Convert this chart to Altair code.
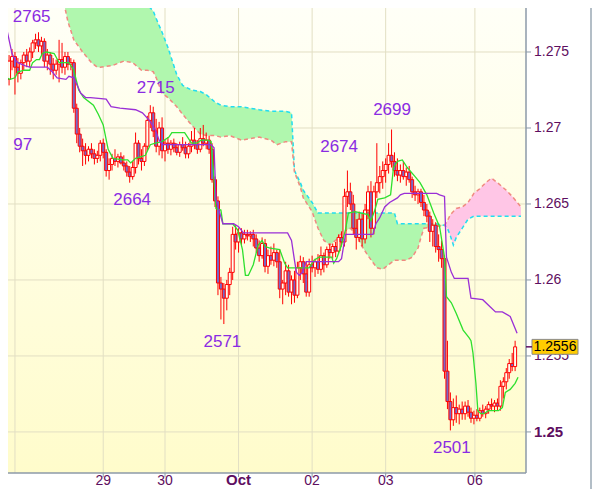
import altair as alt
import pandas as pd

# ---------------- candle data (bar index 0..173) ----------------
opens = [
 1.2745,1.2732,1.2744,1.2747,1.2740,1.2736,1.2743,1.2748,1.2744,1.2750,
 1.2756,1.2758,1.2754,1.2757,1.2744,1.2748,1.2742,1.2738,1.2742,1.2745,
 1.2740,1.2747,1.2742,1.2743,1.2713,1.2696,1.2688,1.2685,1.2682,1.2686,
 1.2683,1.2680,1.2682,1.2690,1.2684,1.2672,1.2676,1.2680,1.2678,1.2681,
 1.2677,1.2675,1.2671,1.2668,1.2674,1.2690,1.2680,1.2678,1.2688,1.2705,
 1.2710,1.2698,1.2688,1.2700,1.2685,1.2690,1.2686,1.2690,1.2687,1.2684,
 1.2689,1.2687,1.2683,1.2688,1.2692,1.2689,1.2686,1.2693,1.2690,1.2692,
 1.2686,1.2666,1.2652,1.2598,1.2594,1.2588,1.2597,1.2605,1.2630,1.2625,
 1.2631,1.2627,1.2630,1.2629,1.2630,1.2627,1.2621,1.2616,1.2624,1.2609,
 1.2616,1.2613,1.2618,1.2612,1.2594,1.2598,1.2606,1.2592,1.2600,1.2590,
 1.2608,1.2612,1.2604,1.2592,1.2610,1.2608,1.2612,1.2607,1.2616,1.2610,
 1.2620,1.2618,1.2622,1.2619,1.2628,1.2625,1.2655,1.2658,1.2650,1.2634,
 1.2628,1.2640,1.2627,1.2646,1.2658,1.2634,1.2658,1.2664,1.2668,1.2672,
 1.2676,1.2682,1.2678,1.2672,1.2669,1.2672,1.2668,1.2671,1.2666,1.2658,
 1.2656,1.2658,1.2651,1.2646,1.2642,1.2632,1.2636,1.2622,1.2620,1.2614,
 1.2540,1.2520,1.2508,1.2516,1.2512,1.2515,1.2512,1.2517,1.2513,1.2509,
 1.2511,1.2509,1.2514,1.2512,1.2515,1.2518,1.2517,1.2519,1.2517,1.2530,
 1.2533,1.2539,1.2545,1.2543]
highs = [
 1.2765,1.2748,1.2752,1.2750,1.2746,1.2745,1.2750,1.2752,1.2753,1.2758,
 1.2762,1.2763,1.2760,1.2759,1.2752,1.2750,1.2746,1.2745,1.2758,1.2756,
 1.2750,1.2750,1.2746,1.2745,1.2716,1.2700,1.2693,1.2690,1.2688,1.2690,
 1.2686,1.2685,1.2692,1.2693,1.2686,1.2680,1.2683,1.2686,1.2683,1.2684,
 1.2682,1.2678,1.2675,1.2678,1.2697,1.2692,1.2686,1.2690,1.2708,1.2715,
 1.2714,1.2706,1.2704,1.2707,1.2692,1.2694,1.2692,1.2693,1.2690,1.2691,
 1.2694,1.2691,1.2690,1.2698,1.2700,1.2692,1.2700,1.2702,1.2697,1.2695,
 1.2690,1.2668,1.2655,1.2602,1.2598,1.2600,1.2608,1.2635,1.2636,1.2634,
 1.2634,1.2633,1.2633,1.2632,1.2633,1.2630,1.2626,1.2628,1.2627,1.2620,
 1.2622,1.2624,1.2620,1.2620,1.2600,1.2612,1.2610,1.2603,1.2606,1.2612,
 1.2616,1.2615,1.2612,1.2614,1.2616,1.2614,1.2617,1.2622,1.2618,1.2622,
 1.2624,1.2624,1.2625,1.2630,1.2632,1.2660,1.2672,1.2664,1.2656,1.2640,
 1.2645,1.2644,1.2650,1.2662,1.2665,1.2662,1.2690,1.2675,1.2678,1.2680,
 1.2690,1.2699,1.2684,1.2680,1.2676,1.2678,1.2674,1.2675,1.2668,1.2662,
 1.2660,1.2660,1.2656,1.2650,1.2645,1.2640,1.2638,1.2630,1.2626,1.2616,
 1.2560,1.2526,1.2522,1.2524,1.2518,1.2520,1.2520,1.2521,1.2516,1.2514,
 1.2515,1.2516,1.2518,1.2517,1.2520,1.2522,1.2521,1.2522,1.2534,1.2536,
 1.2542,1.2548,1.2552,1.2560]
lows = [
 1.2725,1.2728,1.2738,1.2722,1.2730,1.2732,1.2738,1.2740,1.2740,1.2746,
 1.2752,1.2750,1.2748,1.2740,1.2738,1.2735,1.2732,1.2735,1.2730,1.2736,
 1.2735,1.2738,1.2738,1.2710,1.2690,1.2684,1.2675,1.2676,1.2678,1.2680,
 1.2676,1.2677,1.2678,1.2680,1.2668,1.2666,1.2672,1.2675,1.2674,1.2676,
 1.2672,1.2668,1.2664,1.2666,1.2670,1.2676,1.2672,1.2675,1.2685,1.2700,
 1.2694,1.2684,1.2682,1.2680,1.2678,1.2683,1.2682,1.2684,1.2682,1.2681,
 1.2685,1.2680,1.2680,1.2684,1.2686,1.2683,1.2684,1.2688,1.2686,1.2683,
 1.2664,1.2648,1.2590,1.2574,1.2571,1.2580,1.2590,1.2600,1.2620,1.2618,
 1.2622,1.2624,1.2626,1.2625,1.2622,1.2618,1.2612,1.2614,1.2605,1.2604,
 1.2610,1.2609,1.2608,1.2588,1.2584,1.2590,1.2589,1.2584,1.2585,1.2588,
 1.2600,1.2598,1.2589,1.2589,1.2605,1.2602,1.2604,1.2603,1.2605,1.2608,
 1.2614,1.2614,1.2615,1.2617,1.2622,1.2622,1.2648,1.2646,1.2630,1.2620,
 1.2625,1.2622,1.2624,1.2640,1.2628,1.2630,1.2654,1.2657,1.2660,1.2664,
 1.2670,1.2674,1.2668,1.2665,1.2664,1.2666,1.2662,1.2664,1.2654,1.2652,
 1.2650,1.2648,1.2642,1.2638,1.2625,1.2622,1.2618,1.2612,1.2608,1.2535,
 1.2515,1.2501,1.2504,1.2506,1.2505,1.2508,1.2508,1.2510,1.2506,1.2505,
 1.2507,1.2507,1.2510,1.2509,1.2512,1.2514,1.2513,1.2514,1.2514,1.2522,
 1.2528,1.2535,1.2540,1.2540]
closes = [
 1.2732,1.2744,1.2747,1.2740,1.2736,1.2743,1.2748,1.2744,1.2750,1.2756,
 1.2758,1.2754,1.2757,1.2744,1.2748,1.2742,1.2738,1.2742,1.2745,1.2740,
 1.2747,1.2742,1.2743,1.2713,1.2696,1.2688,1.2685,1.2682,1.2686,1.2683,
 1.2680,1.2682,1.2690,1.2684,1.2672,1.2676,1.2680,1.2678,1.2681,1.2677,
 1.2675,1.2671,1.2668,1.2674,1.2690,1.2680,1.2678,1.2688,1.2705,1.2710,
 1.2698,1.2688,1.2700,1.2685,1.2690,1.2686,1.2690,1.2687,1.2684,1.2689,
 1.2687,1.2683,1.2688,1.2692,1.2689,1.2686,1.2693,1.2690,1.2692,1.2686,
 1.2666,1.2652,1.2598,1.2594,1.2588,1.2597,1.2605,1.2630,1.2625,1.2631,
 1.2627,1.2630,1.2629,1.2630,1.2627,1.2621,1.2616,1.2624,1.2609,1.2616,
 1.2613,1.2618,1.2612,1.2594,1.2598,1.2606,1.2592,1.2600,1.2590,1.2608,
 1.2612,1.2604,1.2592,1.2610,1.2608,1.2612,1.2607,1.2616,1.2610,1.2620,
 1.2618,1.2622,1.2619,1.2628,1.2625,1.2655,1.2658,1.2650,1.2634,1.2628,
 1.2640,1.2627,1.2646,1.2658,1.2634,1.2658,1.2664,1.2668,1.2672,1.2676,
 1.2682,1.2678,1.2672,1.2669,1.2672,1.2668,1.2671,1.2666,1.2658,1.2656,
 1.2658,1.2651,1.2646,1.2642,1.2632,1.2636,1.2622,1.2620,1.2614,1.2540,
 1.2520,1.2508,1.2516,1.2512,1.2515,1.2512,1.2517,1.2513,1.2509,1.2511,
 1.2509,1.2514,1.2512,1.2515,1.2518,1.2517,1.2519,1.2517,1.2530,1.2533,
 1.2539,1.2545,1.2543,1.2556]

# ---------------- indicator lines ----------------
tenkan_idx = [0,1.33,3,4,6.33,8,9,10.33,11.33,12.33,
 13.67,16.33,18,19.67,21.33,23,24.67,26.33,29.67,31.33,
 33,34.67,36.33,39.67,41.33,42.33,44,45.67,47.33,49,
 50.67,53,55.33,56.33,60.67,62,63,64.67,66.33,68.67,
 69.67,70.67,71.33,73,73.67,77,78.67,80.33,81.33,82.33,
 84,85.67,87,88,89.67,93,94.67,95.67,99.67,103,
 104.67,106.33,110.67,111.33,112.33,114,115.33,116.33,118.67,120.67,
 123,124,125.33,126.33,128.67,130.67,131.67,133,134.67,136.33,
 139,140.67,143,145.33,147.33,149,149.67,151.33,153,155.33,
 157.33,158,158.67,159.67,160.33,161.33,162.33,164,167.33,168.67,
 169.67,171.33,173,174]
tenkan_val = [1.2733,1.2732,1.2733,1.2737,1.2738,1.2738,1.2743,1.2745,1.2745,1.2749,
 1.2750,1.2749,1.2743,1.2743,1.2743,1.2738,1.2725,1.2720,1.2715,1.2709,
 1.2702,1.2686,1.2680,1.2679,1.2679,1.2677,1.2680,1.2681,1.2682,1.2689,
 1.2690,1.2691,1.2694,1.2697,1.2697,1.2693,1.2690,1.2690,1.2692,1.2692,
 1.2691,1.2666,1.2647,1.2646,1.2637,1.2637,1.2633,1.2620,1.2603,1.2603,
 1.2610,1.2623,1.2626,1.2622,1.2621,1.2620,1.2611,1.2608,1.2608,1.2608,
 1.2613,1.2615,1.2615,1.2611,1.2614,1.2623,1.2633,1.2644,1.2645,1.2644,
 1.2643,1.2639,1.2646,1.2653,1.2654,1.2656,1.2674,1.2678,1.2679,1.2674,
 1.2668,1.2664,1.2656,1.2644,1.2635,1.2615,1.2589,1.2585,1.2578,1.2567,
 1.2562,1.2560,1.2552,1.2532,1.2514,1.2512,1.2512,1.2514,1.2514,1.2516,
 1.2526,1.2528,1.2532,1.2536]

kijun_idx = [0.33,2,3,4,6.33,8,14,15.67,17.33,20.33,
 21.33,23,25.33,27,28.67,34,35.67,38.67,44,46.33,
 48.67,50.67,52,53,69.67,70.67,71.33,72.33,73.67,77.33,
 79,80.67,95.67,97,98,98.67,99.67,100.67,102,113,
 114,114.67,115.33,124.67,125.67,127,128.67,130.33,133,134,
 135.33,146.33,147.33,149,149.67,151.33,152.33,157,158,162,
 164.67,166.33,168.67,171.33,173.67]
kijun_val = [1.2764,1.2749,1.2745,1.2743,1.2741,1.2740,1.2740,1.2737,1.2733,1.2732,
 1.2734,1.2733,1.2723,1.2720,1.2720,1.2719,1.2714,1.2713,1.2712,1.2710,
 1.2705,1.2699,1.2692,1.2689,1.2689,1.2687,1.2653,1.2646,1.2637,1.2637,
 1.2635,1.2631,1.2631,1.2626,1.2613,1.2605,1.2603,1.2605,1.2612,1.2612,
 1.2614,1.2622,1.2630,1.2630,1.2637,1.2641,1.2648,1.2651,1.2654,1.2656,
 1.2657,1.2657,1.2656,1.2655,1.2615,1.2605,1.2601,1.2601,1.2588,1.2587,
 1.2582,1.2579,1.2579,1.2576,1.2565]

# ---------------- cloud (span A / span B) ----------------
cloud_idx = [18,20,21,23,26,29,31,32,36,40,
 43,46,48,50,51,53,55,56,58,60,
 63,66,68,71,73,76,80,83,86,90,
 92,95,97,98,100,101,104,106,108,110,
 112,114,117,119,121,123,126,128,130,132,
 133,136,138,140,141,142,146,149,150,151,
 152,153,155,157,159,161,163,165,167,170,
 172,175]
span_a = [1.2811,1.2811,1.2811,1.2810,1.2808,1.2800,1.2791,1.2781,1.2781,1.2781,
 1.2781,1.2781,1.2781,1.2777,1.2772,1.2763,1.2753,1.2747,1.2735,1.2728,
 1.2725,1.2724,1.2722,1.2717,1.2715,1.2714,1.2714,1.2713,1.2712,1.2711,
 1.2711,1.2711,1.2710,1.2672,1.2664,1.2659,1.2651,1.2644,1.2644,1.2644,
 1.2644,1.2644,1.2644,1.2644,1.2644,1.2644,1.2644,1.2644,1.2644,1.2644,
 1.2637,1.2637,1.2637,1.2637,1.2637,1.2637,1.2637,1.2636,1.2634,1.2629,
 1.2623,1.2628,1.2634,1.2640,1.2642,1.2642,1.2642,1.2642,1.2642,1.2642,
 1.2642,1.2642]
span_b = [1.2791,1.2779,1.2770,1.2758,1.2750,1.2743,1.2740,1.2740,1.2741,1.2744,
 1.2743,1.2738,1.2738,1.2737,1.2733,1.2723,1.2720,1.2718,1.2714,1.2709,
 1.2702,1.2696,1.2695,1.2695,1.2694,1.2695,1.2692,1.2693,1.2694,1.2692,
 1.2689,1.2691,1.2691,1.2671,1.2661,1.2654,1.2645,1.2634,1.2626,1.2623,
 1.2626,1.2631,1.2634,1.2630,1.2622,1.2616,1.2608,1.2607,1.2610,1.2613,
 1.2613,1.2613,1.2615,1.2621,1.2628,1.2634,1.2635,1.2636,1.2639,1.2643,
 1.2645,1.2647,1.2648,1.2651,1.2657,1.2660,1.2664,1.2667,1.2664,1.2659,
 1.2655,1.2648]

# ---------------- annotations & axes ----------------
label_text = ["2765", "2715", "97", "2664", "2571", "2674", "2699", "2501"]
label_idx = [8.67, 50.83, 5.67, 42.83, 73.5, 113.17, 131.17, 151.5]
label_price = [1.2770, 1.2723, 1.26855, 1.26493, 1.25559, 1.26842, 1.27085, 1.24861]

grid_idx = [3, 33, 54, 79, 104, 129, 159.33]
tick_idx = [33, 54, 79, 104, 129, 159.33]
tick_labels = ["29", "30", "Oct", "02", "03", "06"]
tick_bold = [False, False, True, False, False, False]
price_ticks = [1.25, 1.255, 1.26, 1.265, 1.27, 1.275]
price_labels = ["1.25", "1.255", "1.26", "1.265", "1.27", "1.275"]
price_bold = [True, False, False, False, False, False]

W, H = 518, 465
SVG_W, SVG_H = 584, 481
xs = alt.Scale(domain=[2.3333, 175], nice=False, zero=False)
ys = alt.Scale(domain=[1.247298, 1.277895], nice=False, zero=False)
AXC = "#8C9AA8"
LAB = "#5E0E60"
FONT = "Liberation Sans"
GRID = "#E2DFC3"

candles = pd.DataFrame({"i": list(range(len(closes))), "o": opens, "h": highs,
                        "l": lows, "c": closes})
tenkan = pd.DataFrame({"i": tenkan_idx, "v": tenkan_val})
kijun = pd.DataFrame({"i": kijun_idx, "v": kijun_val})
cloud = pd.DataFrame({"i": cloud_idx, "a": span_a, "b": span_b})
labels = pd.DataFrame({"t": label_text, "i": label_idx, "p": label_price})
grid_x = pd.DataFrame({"i": grid_idx})
xt = pd.DataFrame({"i": tick_idx, "t": tick_labels, "b": tick_bold})
yt = pd.DataFrame({"p": price_ticks, "t": price_labels, "b": price_bold})
last = pd.DataFrame({"p": [closes[-1]], "t": [f"{closes[-1]:.4f}"]})
one = pd.DataFrame({"k": [0]})


def X(field):
    return alt.X(field, scale=xs, axis=None)


def Y(field):
    return alt.Y(field, scale=ys, axis=None)


bg = alt.Chart(one).mark_rect(
    fill=alt.Gradient(gradient="linear",
                      stops=[alt.GradientStop(color="#FFFFF7", offset=0),
                             alt.GradientStop(color="#FFFCCB", offset=1)],
                      x1=0, x2=0, y1=0, y2=1)
).encode(x=alt.value(0), x2=alt.value(W), y=alt.value(0), y2=alt.value(H))

gx = alt.Chart(grid_x).mark_rule(color=GRID, strokeWidth=1).encode(
    x=X("i:Q"), y=alt.value(0), y2=alt.value(H))
gy = alt.Chart(yt).mark_rule(color=GRID, strokeWidth=1).encode(
    y=Y("p:Q"), x=alt.value(0), x2=alt.value(W))

cloud_base = alt.Chart(cloud).transform_calculate(lo="min(datum.a, datum.b)")
green = cloud_base.mark_area(color="#B0F7AE", opacity=1, clip=True).encode(
    x=X("i:Q"), y=Y("a:Q"), y2="lo:Q")
pink = cloud_base.mark_area(color="#FFC6E6", opacity=1, clip=True).encode(
    x=X("i:Q"), y=Y("b:Q"), y2="lo:Q")
line_a = alt.Chart(cloud).mark_line(color="#22DDF0", strokeWidth=1.5,
                                    strokeDash=[4, 3], clip=True).encode(
    x=X("i:Q"), y=Y("a:Q"))
line_b = alt.Chart(cloud).mark_line(color="#F08A80", strokeWidth=1.5,
                                    strokeDash=[4, 3], clip=True).encode(
    x=X("i:Q"), y=Y("b:Q"))

wicks = alt.Chart(candles).mark_rule(color="#FF0000", strokeWidth=1, clip=True).encode(
    x=X("i:Q"), y=Y("l:Q"), y2="h:Q")
bodies = alt.Chart(candles).mark_bar(size=3, stroke="#FF0000", strokeWidth=1,
                                     clip=True).encode(
    x=X("i:Q"), y=Y("o:Q"), y2="c:Q",
    fill=alt.condition("datum.c < datum.o", alt.value("#7A68C6"), alt.value("#FFFFF2")))

tk = alt.Chart(tenkan).mark_line(color="#2EE02E", strokeWidth=1.3, clip=True).encode(
    x=X("i:Q"), y=Y("v:Q"))
kj = alt.Chart(kijun).mark_line(color="#9A2FD6", strokeWidth=1.3, clip=True).encode(
    x=X("i:Q"), y=Y("v:Q"))

txt = alt.Chart(labels).mark_text(font=FONT, fontSize=17, color="#8A2BE2",
                                  align="center", baseline="alphabetic").encode(
    x=X("i:Q"), y=Y("p:Q"), text="t:N")

# ----- axes drawn from the tick arrays through the same scales -----
dom_r = alt.Chart(one).mark_rule(color=AXC, strokeWidth=1.5).encode(
    x=alt.value(W), y=alt.value(0), y2=alt.value(H))
dom_b = alt.Chart(one).mark_rule(color=AXC, strokeWidth=1.5).encode(
    x=alt.value(0), x2=alt.value(W), y=alt.value(H))
ytick = alt.Chart(yt).mark_rule(color=AXC, strokeWidth=1).encode(
    y=Y("p:Q"), x=alt.value(W), x2=alt.value(W + 5))
ylab_n = alt.Chart(yt).transform_filter("!datum.b").mark_text(
    font=FONT, fontSize=14, color=LAB, align="left", baseline="middle").encode(
    y=Y("p:Q"), x=alt.value(W + 8), text="t:N")
ylab_b = alt.Chart(yt).transform_filter("datum.b").mark_text(
    font=FONT, fontSize=15, fontWeight="bold", color=LAB, align="left",
    baseline="middle").encode(y=Y("p:Q"), x=alt.value(W + 8), text="t:N")
xtick = alt.Chart(xt).mark_rule(color=AXC, strokeWidth=1).encode(
    x=X("i:Q"), y=alt.value(H), y2=alt.value(H + 4))
xlab_n = alt.Chart(xt).transform_filter("!datum.b").mark_text(
    font=FONT, fontSize=14, color=LAB, align="center", baseline="bottom").encode(
    x=X("i:Q"), y=alt.value(SVG_H - 1), text="t:N")
xlab_b = alt.Chart(xt).transform_filter("datum.b").mark_text(
    font=FONT, fontSize=15, fontWeight="bold", color=LAB, align="center",
    baseline="bottom").encode(x=X("i:Q"), y=alt.value(SVG_H - 1), text="t:N")

box = alt.Chart(last).transform_calculate(
    top="datum.p + 0.00049", bot="datum.p - 0.00049"
).mark_rect(fill="#FFCC00", stroke="#8A8A8A", strokeWidth=1).encode(
    x=alt.value(524), x2=alt.value(570), y=Y("top:Q"), y2="bot:Q")
box_tick = alt.Chart(last).mark_rule(color=LAB, strokeWidth=1.5).encode(
    x=alt.value(W), x2=alt.value(524), y=Y("p:Q"))
box_txt = alt.Chart(last).mark_text(font=FONT, fontSize=14, color="#000000",
                                    align="center", baseline="middle").encode(
    x=alt.value(547), y=Y("p:Q"), text="t:N")

frame_r = alt.Chart(one).mark_rule(color="#9AA8B4", strokeWidth=1.5).encode(
    x=alt.value(SVG_W - 1), y=alt.value(0), y2=alt.value(SVG_H))

chart = alt.layer(
    bg, gx, gy, green, pink, line_a, line_b, wicks, bodies, tk, kj, txt,
    dom_r, dom_b, ytick, ylab_n, ylab_b, xtick, xlab_n, xlab_b,
    box, box_tick, box_txt, frame_r
).properties(
    width=W, height=H,
    autosize=alt.AutoSizeParams(type="none"),
    padding={"left": 0, "top": 0, "right": SVG_W - W, "bottom": SVG_H - H},
    background="white",
).configure_view(stroke=None)

chart.save("out.html", embed_options={"renderer": "svg", "actions": False})
